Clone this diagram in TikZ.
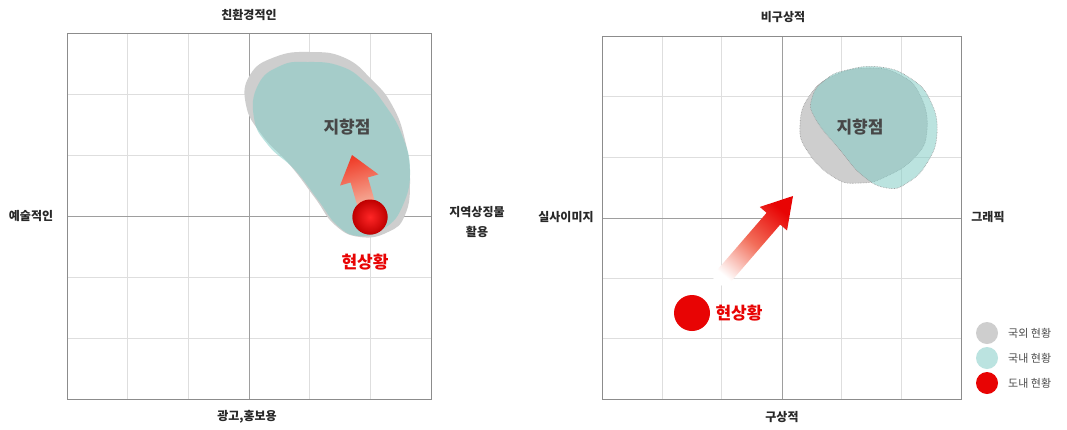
\documentclass[tikz,border=0pt]{standalone}
\usepackage{fontspec}
\setmainfont{Noto Sans CJK KR}
\usetikzlibrary{calc}
\usetikzlibrary{scopes}

\definecolor{abroadgray}{RGB}{206,206,206}
\definecolor{hometeal}{RGB}{132,204,198}
\definecolor{localred}{RGB}{232,4,4}
\definecolor{labelgray}{RGB}{40,40,40}

\tikzset{
    axislabel/.style={font=\fontsize{12}{14}\selectfont\bfseries,text=labelgray,align=center,inner sep=0pt},
    gridline/.style={draw=black!13,line width=0.5pt},
    midline/.style={draw=black!38,line width=0.6pt},
    frameline/.style={draw=black!45,line width=0.8pt},
    goallabel/.style={font=\fontsize{17}{19}\selectfont\bfseries,text=black!72,inner sep=0pt},
    nowlabel/.style={font=\fontsize{17}{19}\selectfont\bfseries,text=localred,inner sep=0pt},
    legendtext/.style={font=\fontsize{11}{12}\selectfont,text=black!70,anchor=west,inner sep=0pt},
    spot/.style={circle,inner sep=0pt,minimum size=#1},
    outline/.style={draw=black!40,densely dotted,line width=0.6pt},
}

\begin{document}
\begin{tikzpicture}[x=1pt,y=-1pt]
    \useasboundingbox[fill=white] (0,0) rectangle (1067,429);

    { [] % left chart
        \foreach \i in {1,2,4,5} {
            \draw[gridline] ({67+\i*60.67},33) -- ({67+\i*60.67},399);
            \draw[gridline] (67,{33+\i*61}) -- (431,{33+\i*61});
        }
        \draw[midline] (249,33) -- (249,399);
        \draw[midline] (67,216) -- (431,216);
        \draw[frameline] (67,33) rectangle (431,399);

        \node[axislabel] (top1) at (249,15) {친환경적인};
        \node[axislabel] (bottom1) at (247,417) {광고,홍보용};
        \node[axislabel] (left1) at (31,216) {예술적인};
        \node[axislabel,font=\fontsize{12}{20}\selectfont\bfseries] (right1) at (477,222) {지역상징물\\활용};

        \fill[abroadgray] plot[smooth cycle,tension=0.8] coordinates {
            (310,52) (345,58) (372,80) (392,105) (405,140) (410,180) (405,215)
            (388,232) (360,237) (335,225) (315,198) (290,165) (262,135) (246,105) (250,75) (275,57)};
        \fill[hometeal,fill opacity=0.55] plot[smooth cycle,tension=0.8] coordinates {
            (307,62) (340,66) (365,82) (385,105) (402,135) (410,170) (403,205)
            (385,228) (360,236) (338,226) (318,200) (295,170) (268,145) (254,118) (258,85) (280,66)};
        \node[goallabel] (goal1text) at (347,127) {지향점};

        \node[spot=35pt,inner color=red!80!white,outer color=red!75!black] (now1) at (370,217) {};
        \coordinate (goal1) at (352,155);
        \coordinate (tail1) at ($(now1.center)!0.2!(goal1)$);
        \coordinate (head1) at ($(goal1)!26pt!(tail1)$);
        \shade[top color={rgb,255:red,240;green,60;blue,40},bottom color={rgb,255:red,245;green,175;blue,155},shading angle=17]
            ($(tail1)!9pt!90:(goal1)$) -- ($(head1)!9pt!90:(goal1)$) -- ($(head1)!20pt!90:(goal1)$) -- (goal1)
            -- ($(head1)!20pt!-90:(goal1)$) -- ($(head1)!9pt!-90:(goal1)$) -- ($(tail1)!9pt!-90:(goal1)$) -- cycle;
        \node[spot=35pt,inner color=red!85!white,outer color=red!75!black] at (now1) {};
        \node[nowlabel] (now1text) at (365,262) {현상황};
    }

    { [] % right chart
        \foreach \i in {1,2,4,5} {
            \draw[gridline] ({602+\i*59.83},36) -- ({602+\i*59.83},399);
            \draw[gridline] (602,{36+\i*60.5}) -- (961,{36+\i*60.5});
        }
        \draw[midline] (782,36) -- (782,399);
        \draw[midline] (602,218) -- (961,218);
        \draw[frameline] (602,36) rectangle (961,399);

        \node[axislabel] (top2) at (783,17) {비구상적};
        \node[axislabel] (bottom2) at (782,417) {구상적};
        \node[axislabel] (left2) at (566,217) {실사이미지};
        \node[axislabel] (right2) at (988,217) {그래픽};

        \fill[abroadgray,outline] plot[smooth cycle,tension=0.8] coordinates {
            (835,75) (870,68) (900,75) (920,95) (927,130) (915,157) (885,177)
            (860,183) (835,178) (808,152) (800,125) (810,95)};
        \fill[hometeal,fill opacity=0.55,outline] plot[smooth cycle,tension=0.8] coordinates {
            (847,70) (880,67) (910,78) (930,100) (937,133) (927,163) (907,183)
            (887,188) (863,176) (840,150) (815,118) (812,98) (825,80)};
        \node[goallabel] (goal2text) at (860,127) {지향점};

        \node[spot=36pt,fill=localred] (now2) at (692,313) {};
        \coordinate (goal2) at (793,196);
        \coordinate (tail2) at ($(now2.center)!0.26!(goal2)$);
        \coordinate (head2) at ($(goal2)!30pt!(tail2)$);
        \shade[bottom color=white,top color=localred,middle color={rgb,255:red,242;green,110;blue,90},shading angle=-40]
            ($(tail2)!9pt!90:(goal2)$) -- ($(head2)!9pt!90:(goal2)$) -- ($(head2)!18pt!90:(goal2)$) -- (goal2)
            -- ($(head2)!18pt!-90:(goal2)$) -- ($(head2)!9pt!-90:(goal2)$) -- ($(tail2)!9pt!-90:(goal2)$) -- cycle;
        \node[nowlabel] (now2text) at (739,313) {현상황};

        \node[spot=22pt,fill=abroadgray] (lg1) at (987,333) {};
        \node[spot=22pt,fill=hometeal!55!white] (lg2) at (987,358) {};
        \node[spot=22pt,fill=localred] (lg3) at (987,383) {};
        \node[legendtext] (lg1text) at ($(lg1)+(21,0)$) {국외 현황};
        \node[legendtext] (lg2text) at ($(lg2)+(21,0)$) {국내 현황};
        \node[legendtext] (lg3text) at ($(lg3)+(21,0)$) {도내 현황};
    }
\end{tikzpicture}
\end{document}
